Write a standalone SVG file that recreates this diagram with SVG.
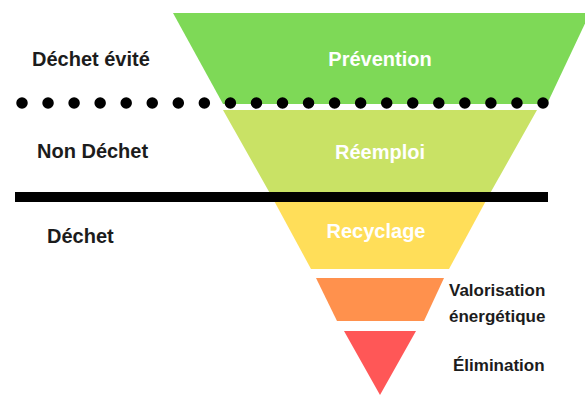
<svg xmlns="http://www.w3.org/2000/svg" width="585" height="396" viewBox="0 0 585 396">
  <style>
    .lbl { font-family: "Liberation Sans", Arial, sans-serif; font-weight: bold; }
    .side { font-size: 20px; fill: #1c1c1c; }
    .right { font-size: 17px; fill: #1c1c1c; }
    .in { font-size: 20px; fill: #ffffff; text-anchor: middle; }
  </style>
  <rect width="585" height="396" fill="#ffffff"/>
  <g id="prevention">
    <polygon points="173,13 590,13 547,104 223,104" fill="#7ED957"/>
    <text class="lbl in" x="380" y="66">Prévention</text>
  </g>
  <g id="reemploi">
    <polygon points="223,110 537,110 488,197 272,197" fill="#C9E265"/>
    <text class="lbl in" x="380" y="159">Réemploi</text>
  </g>
  <g id="recyclage">
    <polygon points="272,197 488,197 449,269 311,269" fill="#FFDE59"/>
    <text class="lbl in" x="376" y="238">Recyclage</text>
  </g>
  <g id="valorisation">
    <polygon points="316,278 444,278 424,321 337,321" fill="#FF914D"/>
    <text class="lbl right" x="449" y="296">Valorisation</text>
    <text class="lbl right" x="449" y="322">énergétique</text>
  </g>
  <g id="elimination">
    <polygon points="344,331 416,331 380,395" fill="#FF5757"/>
    <text class="lbl right" x="453" y="371">Élimination</text>
  </g>
  <g id="separators">
    <line x1="22" y1="103" x2="543" y2="103" stroke="#000" stroke-width="11.5" stroke-linecap="round" stroke-dasharray="0 26.05"/>
    <rect x="15" y="192" width="533" height="10" fill="#000"/>
  </g>
  <g id="zones">
    <text class="lbl side" x="32" y="66">Déchet évité</text>
    <text class="lbl side" x="37" y="158">Non Déchet</text>
    <text class="lbl side" x="47" y="243">Déchet</text>
  </g>
</svg>
